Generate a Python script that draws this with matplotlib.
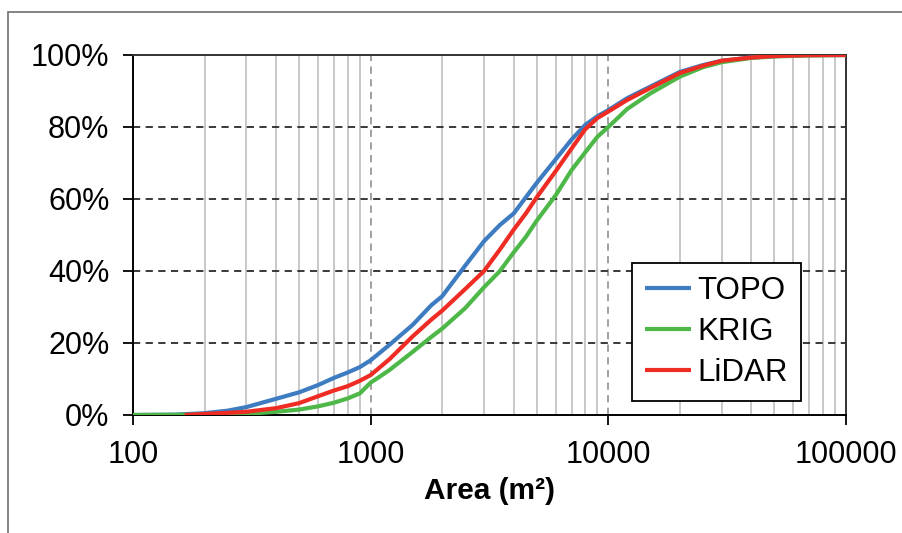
import matplotlib
matplotlib.use("Agg")
import matplotlib.pyplot as plt
from matplotlib.patches import Rectangle
from matplotlib.ticker import FixedLocator, FuncFormatter, NullFormatter

plt.rcParams['font.family'] = ['Liberation Sans', 'DejaVu Sans']

# ---- data (area in m², cumulative %) ----
topo_x = [100, 150, 200, 250, 300, 400, 500, 600, 700, 800, 900, 1000, 1200, 1500,
          1800, 2000, 2500, 3000, 3500, 4000, 4500, 5000, 6000, 7000, 8000, 9000,
          10000, 12000, 15000, 20000, 25000, 30000, 40000, 50000, 70000, 100000]
topo_y = [0, 0.1, 0.5, 1.2, 2.2, 4.5, 6.3, 8.3, 10.3, 11.8, 13.3, 15.2, 19.5, 25.0,
          30.5, 33.0, 41.5, 48.3, 52.8, 56.0, 60.5, 64.5, 71.0, 76.5, 80.6, 83.0,
          84.7, 88.0, 91.2, 95.3, 97.2, 98.4, 99.3, 99.7, 99.95, 100]

krig_x = [100, 150, 200, 300, 400, 500, 600, 700, 800, 900, 1000, 1100, 1200, 1500,
          1800, 2000, 2500, 3000, 3500, 4000, 4500, 5000, 6000, 7000, 8000, 9000,
          10000, 12000, 15000, 20000, 25000, 30000, 40000, 50000, 70000, 100000]
krig_y = [0, 0.05, 0.1, 0.3, 0.9, 1.5, 2.4, 3.4, 4.6, 6.0, 9.0, 10.8, 12.5, 17.5,
          21.7, 24.0, 29.7, 35.5, 40.0, 45.2, 49.5, 54.0, 61.0, 68.0, 73.0, 77.3,
          80.0, 85.0, 89.3, 94.0, 96.6, 98.0, 99.2, 99.6, 99.9, 100]

lidar_x = [165, 200, 250, 300, 400, 500, 600, 700, 800, 900, 1000, 1200, 1500,
           1800, 2000, 2500, 3000, 3500, 4000, 4500, 5000, 6000, 7000, 8000, 9000,
           10000, 12000, 15000, 20000, 25000, 30000, 40000, 50000, 70000, 100000]
lidar_y = [0, 0.3, 0.6, 0.9, 1.9, 3.3, 5.2, 6.8, 8.0, 9.5, 11.1, 15.5, 21.8,
           26.5, 29.0, 35.0, 40.0, 46.0, 51.5, 56.0, 60.5, 67.7, 74.0, 79.4, 82.5,
           84.3, 87.5, 90.8, 95.0, 97.0, 98.4, 99.3, 99.7, 99.95, 100]

series_names = ["TOPO", "KRIG", "LiDAR"]
series_colors = ["#3E7CC2", "#4DB848", "#EE2C24"]

x_ticks = [100, 1000, 10000, 100000]
y_ticks = [0, 20, 40, 60, 80, 100]

W, H = 903, 533
fig = plt.figure(figsize=(W / 100, H / 100), dpi=100)
ax = fig.add_axes([133 / W, 1 - 415 / H, (846 - 133) / W, (415 - 55) / H])

# outer frame (only left and top visible in the reference)
fig.patches.append(Rectangle((8 / W, -0.2), 1.2, 1 - 12 / H + 0.2,
                             transform=fig.transFigure, fill=False,
                             edgecolor="#7a7a7a", linewidth=1.3, zorder=0))

lines = []
for xs, ys, name, c in zip([topo_x, krig_x, lidar_x], [topo_y, krig_y, lidar_y],
                           series_names, series_colors):
    ln, = ax.plot(xs, ys, color=c, linewidth=3.0, label=name, zorder=3,
                  solid_capstyle="butt")
    lines.append(ln)

ax.set_xscale("log")
ax.set_xlim(100, 100000)
ax.set_ylim(0, 100)

ax.xaxis.set_major_locator(FixedLocator(x_ticks))
ax.xaxis.set_major_formatter(FuncFormatter(lambda v, p: f"{int(round(v))}"))
minor = [m * 10 ** e for e in range(2, 5) for m in range(2, 10)]
ax.xaxis.set_minor_locator(FixedLocator(minor))
ax.xaxis.set_minor_formatter(NullFormatter())
ax.yaxis.set_major_locator(FixedLocator(y_ticks))
ax.yaxis.set_major_formatter(FuncFormatter(lambda v, p: f"{int(round(v))}%"))

# grid
for m in minor:
    ax.axvline(m, color="#c4c4c4", linewidth=1.3, zorder=1)
for v in [1000, 10000]:
    ax.axvline(v, color="#999999", linewidth=1.3, linestyle=(0, (4, 3)), zorder=1)
for v in [20, 40, 60, 80]:
    ax.axhline(v, color="#2a2a2a", linewidth=1.3, linestyle=(0, (4, 3)), zorder=1)

ax.tick_params(axis="x", which="major", direction="out", length=7, width=1.3,
               labelsize=22, pad=11, colors="black")
ax.tick_params(axis="x", which="minor", length=0)
ax.tick_params(axis="y", which="major", direction="out", length=7, width=1.3,
               labelsize=22, pad=10)

for s in ["left", "bottom"]:
    ax.spines[s].set_color("black")
    ax.spines[s].set_linewidth(1.4)
for s in ["top", "right"]:
    ax.spines[s].set_color("#333333")
    ax.spines[s].set_linewidth(1.4)

ax.set_xlabel("Area (m²)", fontsize=21.5, fontweight="bold", labelpad=5)

leg = ax.legend(handles=lines, loc="upper left", bbox_to_anchor=(0.700, 0.422),
                borderaxespad=0, fontsize=22.5, frameon=True, fancybox=False,
                edgecolor="black", framealpha=1, handlelength=1.5,
                handletextpad=0.2, labelspacing=0.36, borderpad=0.4)
leg.get_frame().set_linewidth(1.3)
for h in leg.get_lines():
    h.set_linewidth(3.0)

fig.savefig("out.png", dpi=100)
